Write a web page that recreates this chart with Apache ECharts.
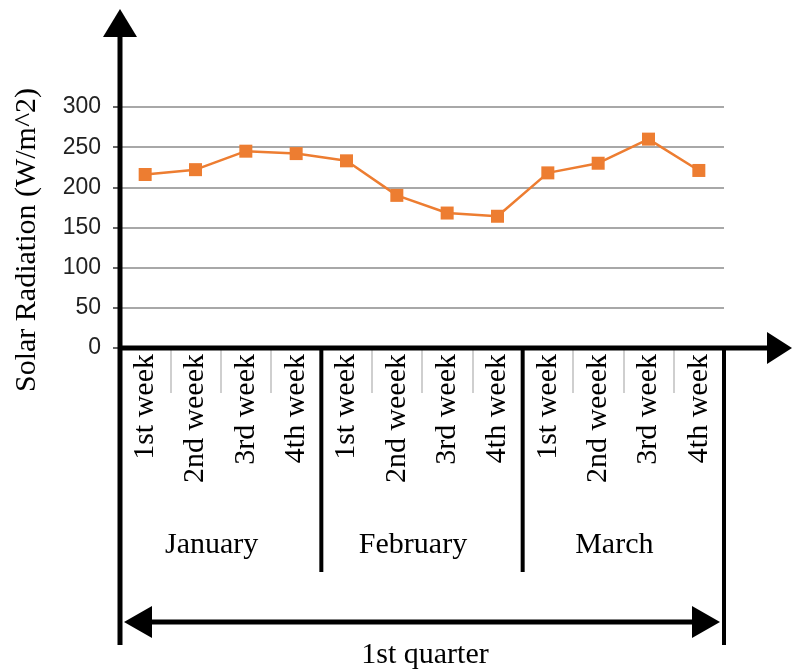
<!DOCTYPE html>
<html><head><meta charset="utf-8">
<script src="https://cdn.jsdelivr.net/npm/echarts@6/dist/echarts.min.js"></script>
<style>html,body{margin:0;padding:0;background:#fff}#c{width:792px;height:670px}</style>
</head><body><div id="c"></div>
<script>
const weeks = ['1st week','2nd weeek','3rd week','4th week','1st week','2nd weeek','3rd week','4th week','1st week','2nd weeek','3rd week','4th week'];
const radiation = [216,222,245,242,233,190,168,164,218,230,260,221];
const months = ['January','February','March'];
const weeksPerMonth = 4;
const yMin = 0, yMax = 300, yInterval = 50;
const yTitle = 'Solar Radiation (W/m^2)';
const periodLabel = '1st quarter';

const serif = "'Liberation Serif','Times New Roman',serif";
const chart = echarts.init(document.getElementById('c'), null, {renderer:'canvas'});
chart.setOption({
  animation:false,
  backgroundColor:'#fff',
  grid:{left:120,right:68,top:107,bottom:322,containLabel:false},
  xAxis:{
    type:'category', data:weeks, boundaryGap:true,
    axisLine:{show:false},
    axisTick:{show:true, interval:0, length:45, lineStyle:{color:'#cfcfcf', width:2}},
    axisLabel:{interval:0, rotate:90, margin:6, fontFamily:serif, fontSize:30, color:'#000'}
  },
  yAxis:{
    type:'value', min:yMin, max:yMax, interval:yInterval,
    axisLine:{show:false},
    axisTick:{show:true, length:7, lineStyle:{color:'#666', width:2}},
    axisLabel:{margin:19, fontFamily:"'Liberation Sans',Arial,sans-serif", fontSize:23, color:'#222'},
    splitLine:{show:true, lineStyle:{color:'#a8a8a8', width:2}}
  },
  series:[{
    type:'line', data:radiation,
    symbol:'rect', symbolSize:13,
    lineStyle:{color:'#ED7D31', width:2.5},
    itemStyle:{color:'#ED7D31'}
  }]
});

const cx = i => chart.convertToPixel({xAxisIndex:0}, i);
const band = cx(1) - cx(0);
const left = cx(0) - band/2;
const right = cx(weeks.length-1) + band/2;
const yZero = chart.convertToPixel({yAxisIndex:0}, 0);
const black = '#000';
const g = [];
const line = (x1,y1,x2,y2,w) => g.push({type:'line', z:100, shape:{x1,y1,x2,y2}, style:{stroke:black, lineWidth:w}});
const poly = pts => g.push({type:'polygon', z:100, shape:{points:pts}, style:{fill:black}});

// y axis with arrow
line(left, 645, left, 30, 5);
poly([[left,9],[left-17,37],[left+17,37]]);
// x axis with arrow
line(left-2, yZero, 772, yZero, 5);
poly([[792,yZero],[767,yZero-16],[767,yZero+16]]);
// month dividers
for (let m=1; m<months.length; m++){
  const x = left + m*weeksPerMonth*band;
  line(x, yZero, x, 572, 4);
}
line(right, yZero, right, 645, 4);
// month labels
months.forEach((name,m)=>{
  const c = (cx(m*weeksPerMonth) + cx(m*weeksPerMonth+weeksPerMonth-1))/2 - 9;
  g.push({type:'text', z:100, style:{text:name, x:c, y:545, textAlign:'center', textVerticalAlign:'middle', font:'30px '+serif, fill:'#000'}});
});
// double arrow for quarter
const ay = 622;
line(left+26, ay, right-26, ay, 5);
poly([[left+4,ay],[left+32,ay-16],[left+32,ay+16]]);
poly([[right-4,ay],[right-32,ay-16],[right-32,ay+16]]);
g.push({type:'text', z:100, style:{text:periodLabel, x:(left+right)/2+3, y:655, textAlign:'center', textVerticalAlign:'middle', font:'30px '+serif, fill:'#000'}});
// y title
g.push({type:'text', z:100, x:27, y:240, rotation:Math.PI/2, style:{text:yTitle, x:0, y:0, textAlign:'center', textVerticalAlign:'middle', font:'30px '+serif, fill:'#000'}});

chart.setOption({graphic:{elements:g}});
</script></body></html>
